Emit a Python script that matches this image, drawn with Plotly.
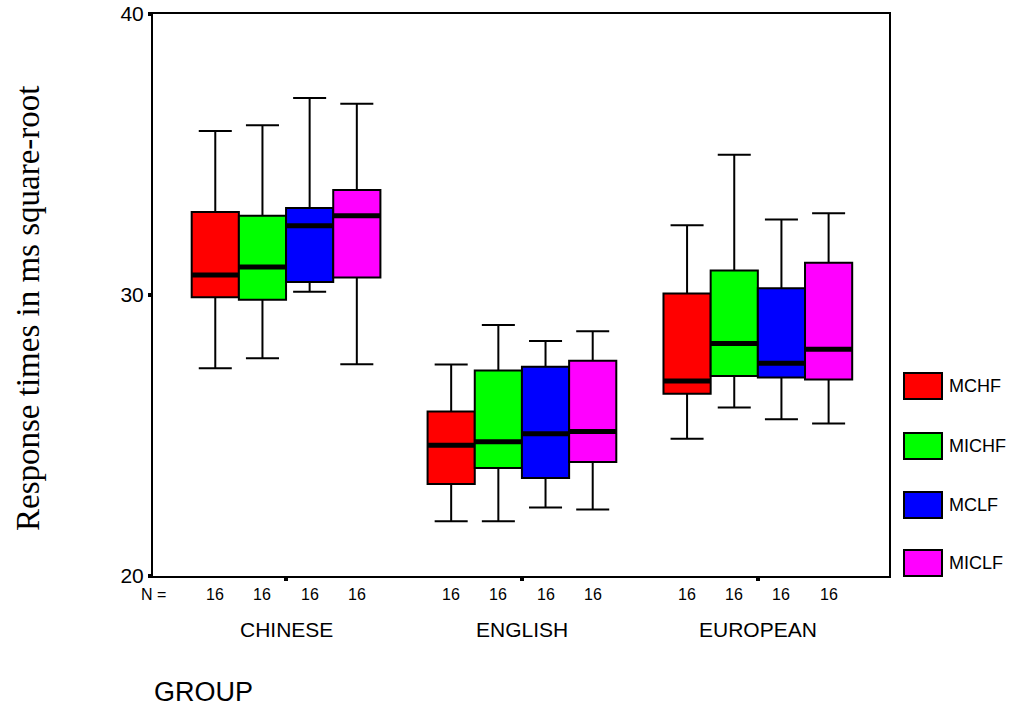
import plotly.graph_objects as go

# Response-time summaries (square-root ms) per language group and condition
groups = ["CHINESE", "ENGLISH", "EUROPEAN"]
series = ["MCHF", "MICHF", "MCLF", "MICLF"]
colors = ["#ff0000", "#00ff00", "#0000ff", "#ff00ff"]
n_counts = [16, 16, 16]

lower_whisker = {
    "MCHF":  [27.39, 21.95, 24.88],
    "MICHF": [27.75, 21.95, 26.00],
    "MCLF":  [30.12, 22.44, 25.58],
    "MICLF": [27.54, 22.37, 25.43],
}
q1 = {
    "MCHF":  [29.92, 23.27, 26.49],
    "MICHF": [29.83, 23.84, 27.12],
    "MCLF":  [30.46, 23.49, 27.06],
    "MICLF": [30.62, 24.06, 26.99],
}
median = {
    "MCHF":  [30.71, 24.65, 26.94],
    "MICHF": [31.00, 24.78, 28.27],
    "MCLF":  [32.46, 25.06, 27.57],
    "MICLF": [32.82, 25.14, 28.07],
}
q3 = {
    "MCHF":  [32.95, 25.85, 30.05],
    "MICHF": [32.82, 27.31, 30.87],
    "MCLF":  [33.10, 27.45, 30.24],
    "MICLF": [33.74, 27.66, 31.15],
}
upper_whisker = {
    "MCHF":  [35.84, 27.53, 32.48],
    "MICHF": [36.04, 28.93, 34.99],
    "MCLF":  [37.01, 28.36, 32.69],
    "MICLF": [36.81, 28.71, 32.91],
}

y_ticks = [20, 30, 40]

BOX_W = 0.2
group_pos = list(range(len(groups)))


def box_x(k):
    return [g + (k - (len(series) - 1) / 2) * BOX_W for g in group_pos]


fig = go.Figure()

for k, name in enumerate(series):
    xs = box_x(k)
    fig.add_trace(go.Box(
        name=name,
        x=xs,
        q1=q1[name],
        median=median[name],
        q3=q3[name],
        lowerfence=lower_whisker[name],
        upperfence=upper_whisker[name],
        width=BOX_W,
        whiskerwidth=0.7,
        fillcolor=colors[k],
        line=dict(color="black", width=2),
        boxpoints=False,
        showlegend=False,
        hoverinfo="skip",
    ))

# heavy median bars drawn over each box
for k, name in enumerate(series):
    xs, ys = [], []
    for x, m in zip(box_x(k), median[name]):
        xs += [x - BOX_W / 2, x + BOX_W / 2, None]
        ys += [m, m, None]
    fig.add_trace(go.Scatter(
        x=xs, y=ys, mode="lines",
        line=dict(color="black", width=5),
        showlegend=False, hoverinfo="skip",
    ))

L, R, T, B = 153, 126, 14, 131
W, H = 1015, 707
pw, ph = W - L - R, H - T - B


def px_to_paper_x(px):
    return (px - L) / pw


def px_to_paper_y(py):
    return (H - B - py) / ph


annotations = []
sans = "Liberation Sans, Arial, sans-serif"

# N counts under each box
annotations.append(dict(
    x=0, y=px_to_paper_y(594), xref="paper", yref="paper",
    text="N =", showarrow=False, xanchor="center", yanchor="middle",
    font=dict(family=sans, size=16, color="black"),
))
for k, name in enumerate(series):
    for x, n in zip(box_x(k), n_counts):
        annotations.append(dict(
            x=x, y=px_to_paper_y(594), xref="x", yref="paper",
            text=str(n), showarrow=False, xanchor="center", yanchor="middle",
            font=dict(family=sans, size=16, color="black"),
        ))

# group names
for g, label in zip(group_pos, groups):
    annotations.append(dict(
        x=g, y=px_to_paper_y(629), xref="x", yref="paper",
        text=label, showarrow=False, xanchor="center", yanchor="middle",
        font=dict(family=sans, size=21, color="black"),
    ))

# axis titles
annotations.append(dict(
    x=px_to_paper_x(152), y=px_to_paper_y(692), xref="paper", yref="paper",
    text="GROUP", showarrow=False, xanchor="left", yanchor="middle",
    font=dict(family=sans, size=27, color="black"),
))
annotations.append(dict(
    x=px_to_paper_x(28), y=px_to_paper_y(309), xref="paper", yref="paper",
    text="Response times in ms square-root", showarrow=False,
    textangle=-90, xanchor="center", yanchor="middle",
    font=dict(family="Liberation Serif, Times New Roman, serif", size=33, color="black"),
))

# legend swatches and labels
shapes = []
legend_centers = [386, 446, 505, 563]
for name, c, cy in zip(series, colors, legend_centers):
    shapes.append(dict(
        type="rect", xref="paper", yref="paper",
        x0=px_to_paper_x(904), x1=px_to_paper_x(942),
        y0=px_to_paper_y(cy + 13), y1=px_to_paper_y(cy - 13),
        fillcolor=c, line=dict(color="black", width=2),
    ))
    annotations.append(dict(
        x=px_to_paper_x(947), y=px_to_paper_y(cy), xref="paper", yref="paper",
        text=name, showarrow=False, xanchor="left", yanchor="middle",
        font=dict(family=sans, size=18, color="black"),
    ))

fig.update_layout(
    width=W, height=H,
    margin=dict(l=L, r=R, t=T, b=B, pad=0, autoexpand=False),
    paper_bgcolor="white", plot_bgcolor="white",
    boxmode="overlay",
    showlegend=False,
    annotations=annotations,
    shapes=shapes,
    xaxis=dict(
        range=[-0.564, 2.556], automargin=False,
        tickvals=group_pos, showticklabels=False,
        ticks="outside", ticklen=3, tickwidth=4, tickcolor="black",
        showline=True, mirror=True, linecolor="black", linewidth=2,
        showgrid=False, zeroline=False, fixedrange=True,
    ),
    yaxis=dict(
        range=[20, 40], automargin=False,
        tickvals=y_ticks,
        ticks="outside", ticklen=3, tickwidth=4, tickcolor="black",
        tickfont=dict(family=sans, size=21, color="black"),
        showline=True, mirror=True, linecolor="black", linewidth=2,
        showgrid=False, zeroline=False, fixedrange=True,
    ),
)

fig.write_html("out.html")
